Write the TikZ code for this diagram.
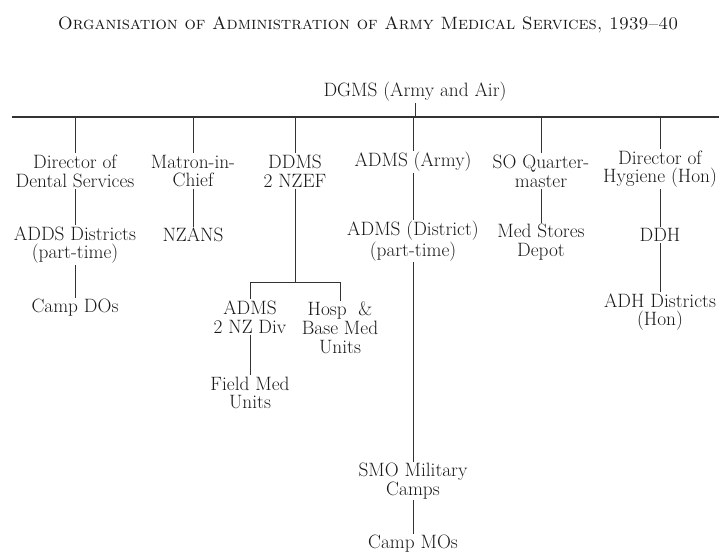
\documentclass[tikz,border=0pt]{standalone}
\usepackage{fontspec}
\usepackage{tikz}
\usetikzlibrary{positioning, calc}

\newcommand{\orgfont}{\fontsize{16.5}{16}\selectfont}
\tikzset{
  unit/.style={align=center, inner sep=1pt, font=\orgfont, text=black!90},
  link/.style={draw=black!80, line width=0.7pt},
}

\begin{document}
\begin{tikzpicture}[x=0.03cm, y=-0.03cm]
	\useasboundingbox (0,0) rectangle (719,553);

	% Title
	\node[font=\fontsize{15.2}{17}\selectfont, text=black!90] (title) at (368,25)
		{\textsc{Organisation of Administration of Army Medical Services, 1939--40}};

	% Head of the tree and the main bar
	\node[unit] (dgms) at (415,92) {DGMS (Army and Air)};
	\coordinate (barL) at (12,117);
	\coordinate (barR) at (719,117);
	\draw[link, line width=1.1pt] (barL) -- (barR);
	\draw[link] (dgms) -- (dgms |- barL);

	% First row of branches
	\node[unit] (dental) at (75,171) {Director of\\Dental Services};
	\node[unit] (matron) at (193,171) {Matron-in-\\Chief};
	\node[unit] (ddms)   at (295,171) {DDMS\\2 NZEF};
	\node[unit] (army)   at (413,162) {ADMS (Army)};
	\node[unit] (soqm)   at (541,171) {SO Quarter-\\master};
	\node[unit] (hyg)    at (660,169) {Director of\\Hygiene (Hon)};

	% Drops from the main bar
	\foreach \b in {dental, matron, ddms, army, soqm, hyg} {
		\draw[link] (\b.north |- barL) -- (\b.north);
	}

	% Second row
	\node[unit] (adds)   at (75,245)  {ADDS Districts\\(part-time)};
	\node[unit] (nzans)  at (193,235) {NZANS};
	\node[unit] (dist)   at (413,241) {ADMS (District)\\(part-time)};
	\node[unit] (stores) at (541,242) {Med Stores\\Depot};
	\node[unit] (ddh)    at (660,235) {DDH};

	\draw[link] (dental) -- (adds);
	\draw[link] (matron) -- (nzans);
	\draw[link] (army) -- (dist);
	\draw[link] (soqm) -- (stores);
	\draw[link] (hyg) -- (ddh);

	% Lower levels
	\node[unit] (campdo) at (75,308)  {Camp DOs};
	\node[unit] (adh)    at (660,312) {ADH Districts\\(Hon)};
	\draw[link] (adds) -- (campdo);
	\draw[link] (ddh) -- (adh);

	% 2 NZEF branch
	\coordinate (nzbar) at (295,282);
	\node[unit] (div)   at (250,317) {ADMS\\2 NZ Div};
	\node[unit] (hosp)  at (340,328) {Hosp\ \ \&\\Base Med\\Units};
	\node[unit] (field) at (250,393) {Field Med\\Units};
	\draw[link] (ddms) -- (nzbar);
	\draw[link] (div.north |- nzbar) -- (hosp.north |- nzbar);
	\draw[link] (div.north |- nzbar) -- (div.north);
	\draw[link] (hosp.north |- nzbar) -- (hosp.north);
	\draw[link] (div) -- (field);

	% Camps
	\node[unit] (smo)    at (413,481) {SMO Military\\Camps};
	\node[unit] (campmo) at (413,544) {Camp MOs};
	\draw[link] (dist) -- (smo);
	\draw[link] (smo) -- (campmo);

\end{tikzpicture}
\end{document}
